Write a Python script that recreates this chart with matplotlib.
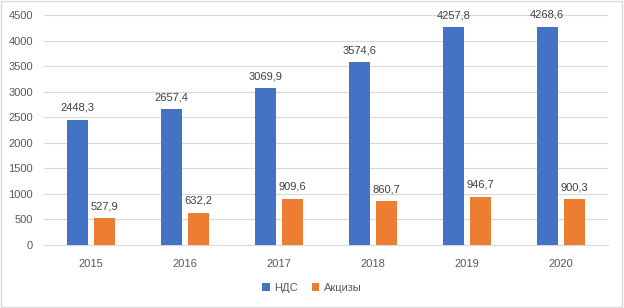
import numpy as np
import matplotlib.pyplot as plt
from matplotlib.patches import Rectangle

years = ['2015', '2016', '2017', '2018', '2019', '2020']
nds = [2448.3, 2657.4, 3069.9, 3574.6, 4257.8, 4268.6]
akcizy = [527.9, 632.2, 909.6, 860.7, 946.7, 900.3]

blue = '#4472C4'
orange = '#ED7D31'
grey_txt = '#595959'

plt.rcParams['font.family'] = ['Liberation Sans', 'DejaVu Sans']

fig = plt.figure(figsize=(6.24, 3.08), dpi=100)
ax = fig.add_axes([0.0705, 0.2045, 0.9035, 0.7465])

x = np.arange(len(years))
w = 0.225
off = 0.144
b1 = ax.bar(x - off, nds, w, color=blue, label='НДС', zorder=3)
b2 = ax.bar(x + off, akcizy, w, color=orange, label='Акцизы', zorder=3)

for bars, vals in ((b1, nds), (b2, akcizy)):
    for r, v in zip(bars, vals):
        ax.annotate(f'{v:.1f}'.replace('.', ','), (r.get_x() + r.get_width() / 2, v),
                    xytext=(0, 5), textcoords='offset points', ha='center', va='bottom',
                    fontsize=8, color='#404040', zorder=4)

ax.set_ylim(0, 4500)
ax.set_yticks(range(0, 4501, 500))
ax.set_xlim(-0.5, len(years) - 0.5)
ax.set_xticks(x)
ax.set_xticklabels(years)
ax.grid(axis='y', color='#D9D9D9', linewidth=0.8, zorder=0)
for s in ['top', 'right', 'left']:
    ax.spines[s].set_visible(False)
ax.spines['bottom'].set_color('#D9D9D9')
ax.tick_params(axis='both', length=0, labelsize=8, colors=grey_txt)
ax.tick_params(axis='x', pad=10)
ax.tick_params(axis='y', pad=8)

fig.legend(handles=[b1, b2], loc='center', bbox_to_anchor=(0.5, 0.065), ncol=2,
           frameon=False, fontsize=8, handlelength=0.7, handleheight=0.7,
           handletextpad=0.4, columnspacing=1.2, labelcolor=grey_txt)

fig.patches.append(Rectangle((0.002, 0.003), 0.995, 0.994, transform=fig.transFigure,
                             fill=False, edgecolor='#D9D9D9', linewidth=1))

fig.savefig('out.png', dpi=100, facecolor='white')
